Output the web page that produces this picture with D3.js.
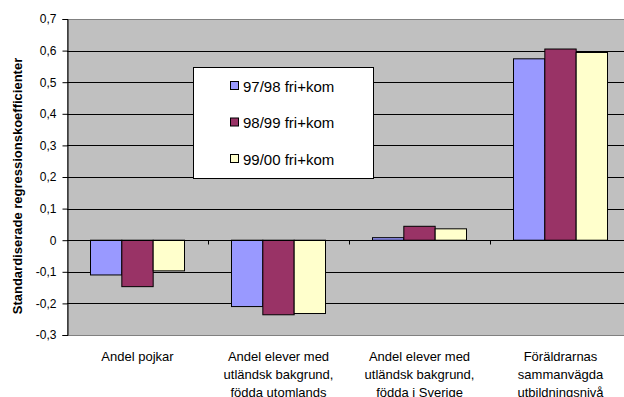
<!DOCTYPE html>
<html>
<head>
<meta charset="utf-8">
<script src="https://cdn.jsdelivr.net/npm/d3@7"></script>
<style>
  body { margin: 0; background: #fff; }
  svg { display: block; font-family: "Liberation Sans", Arial, sans-serif; }
</style>
</head>
<body>
<div id="chart"></div>
<script>
// data
var categories = [
  ["Andel pojkar"],
  ["Andel elever med", "utländsk bakgrund,", "födda utomlands"],
  ["Andel elever med", "utländsk bakgrund,", "födda i Sverige"],
  ["Föräldrarnas", "sammanvägda", "utbildningsnivå"]
];
var series = ["97/98 fri+kom", "98/99 fri+kom", "99/00 fri+kom"];
var colors = ["#9999FF", "#993366", "#FFFFCC"];
var v9798 = [-0.11, -0.21, 0.008, 0.574];
var v9899 = [-0.147, -0.236, 0.044, 0.605];
var v9900 = [-0.097, -0.232, 0.036, 0.594];
var yTicks = [-0.3, -0.2, -0.1, 0, 0.1, 0.2, 0.3, 0.4, 0.5, 0.6, 0.7];
var yTitle = "Standardiserade regressionskoefficienter";

var values = [v9798, v9899, v9900];

var width = 624, height = 397;
var plotLeft = 67, plotRight = 631, plotTop = 19, plotBottom = 335;

var svg = d3.select("#chart").append("svg")
    .attr("width", width)
    .attr("height", height);

var x = d3.scaleBand()
    .domain(d3.range(categories.length))
    .range([plotLeft, plotRight])
    .padding(0);

var xInner = d3.scaleBand()
    .domain(d3.range(series.length))
    .range([x.bandwidth() / 6, x.bandwidth() * 5 / 6])
    .padding(0);

var y = d3.scaleLinear()
    .domain([-0.3, 0.7])
    .range([plotBottom, plotTop]);

var fmt = function(d){ return Math.abs(d) < 1e-9 ? "0" : d3.format(".1f")(d).replace(".", ",").replace("−", "-"); };

// plot area
svg.append("rect")
    .attr("x", plotLeft + 0.5).attr("y", plotTop + 0.5)
    .attr("width", plotRight - plotLeft).attr("height", plotBottom - plotTop)
    .attr("fill", "#C0C0C0")
    .attr("stroke", "#808080");

// gridlines
svg.append("g")
  .selectAll("line")
  .data(yTicks.filter(function(d){ return d > -0.3 && d < 0.7; }))
  .enter().append("line")
    .attr("x1", plotLeft).attr("x2", plotRight)
    .attr("y1", function(d){ return Math.round(y(d)) + 0.5; })
    .attr("y2", function(d){ return Math.round(y(d)) + 0.5; })
    .attr("stroke", "#000")
    .attr("stroke-width", 1);

// bars
var groups = svg.append("g")
  .selectAll("g")
  .data(categories)
  .enter().append("g")
    .attr("transform", function(d, i){ return "translate(" + x(i) + ",0)"; });

groups.selectAll("rect")
  .data(function(d, i){ return values.map(function(s, j){ return {s: j, v: s[i]}; }); })
  .enter().append("rect")
    .attr("x", function(d){ return xInner(d.s); })
    .attr("width", xInner.bandwidth())
    .attr("y", function(d){ return y(Math.max(0, d.v)); })
    .attr("height", function(d){ return Math.abs(y(d.v) - y(0)); })
    .attr("fill", function(d){ return colors[d.s]; })
    .attr("stroke", "#000")
    .attr("stroke-width", 1);

// y axis
var yAxis = svg.append("g")
    .attr("transform", "translate(" + (plotLeft + 0.5) + ",0)")
    .call(d3.axisLeft(y).tickValues(yTicks).tickFormat(fmt).tickSize(5).tickPadding(6));
yAxis.select(".domain").attr("stroke", "#000");
yAxis.selectAll("text")
    .attr("font-family", "Liberation Sans, Arial, sans-serif")
    .attr("font-size", "12px")
    .attr("fill", "#000");

// zero line with category ticks
var zeroY = Math.round(y(0)) + 0.5;
svg.append("line")
    .attr("x1", plotLeft).attr("x2", plotRight)
    .attr("y1", zeroY).attr("y2", zeroY)
    .attr("stroke", "#000");
svg.append("g")
  .selectAll("line")
  .data(d3.range(1, categories.length))
  .enter().append("line")
    .attr("x1", function(d){ return Math.round(x(d)) + 0.5; })
    .attr("x2", function(d){ return Math.round(x(d)) + 0.5; })
    .attr("y1", zeroY).attr("y2", zeroY + 4)
    .attr("stroke", "#000");

// category labels
var lab = svg.append("g")
  .selectAll("text")
  .data(categories)
  .enter().append("text")
    .attr("text-anchor", "middle")
    .attr("font-size", "13px")
    .attr("fill", "#000")
    .attr("transform", function(d, i){ return "translate(" + (x(i) + x.bandwidth() / 2) + ",361)"; });
lab.selectAll("tspan")
  .data(function(d){ return d; })
  .enter().append("tspan")
    .attr("x", 0)
    .attr("y", function(d, i){ return i * 18; })
    .text(function(d){ return d; });

// y title
svg.append("text")
    .attr("transform", "translate(22,186) rotate(-90)")
    .attr("text-anchor", "middle")
    .attr("font-size", "13px")
    .attr("font-weight", "bold")
    .attr("fill", "#000")
    .text(yTitle);

// legend
var legend = svg.append("g").attr("transform", "translate(193,67)");
legend.append("rect")
    .attr("x", 0.5).attr("y", 0.5)
    .attr("width", 180).attr("height", 111)
    .attr("fill", "#fff")
    .attr("stroke", "#000");
var items = legend.selectAll("g.item")
  .data(series)
  .enter().append("g")
    .attr("class", "item")
    .attr("transform", function(d, i){ return "translate(0," + (19 + i * 36.5) + ")"; });
items.append("rect")
    .attr("x", 37.5).attr("y", -4.5)
    .attr("width", 8).attr("height", 8)
    .attr("fill", function(d, i){ return colors[i]; })
    .attr("stroke", "#000");
items.append("text")
    .attr("x", 50)
    .attr("y", 5.5)
    .attr("font-size", "15px")
    .attr("fill", "#000")
    .text(function(d){ return d; });
</script>
</body>
</html>
